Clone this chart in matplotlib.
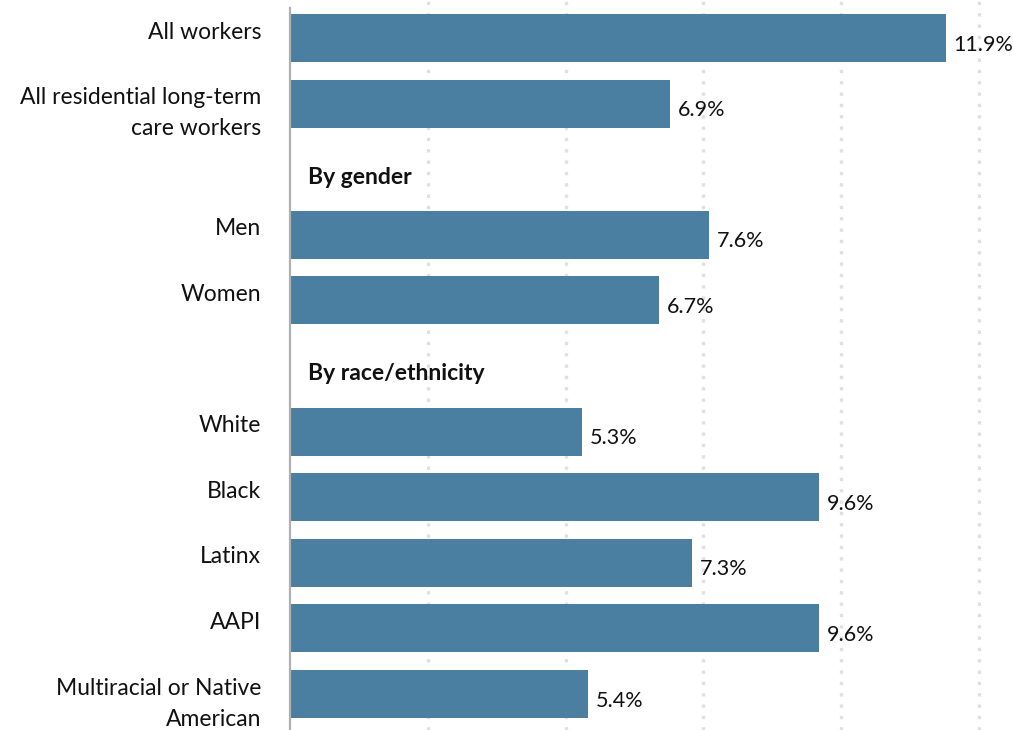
import numpy as np
import matplotlib.pyplot as plt

plt.rcParams['font.family'] = ['Lato', 'DejaVu Sans']

labels = ["All workers", "All residential long-term\ncare workers",
          "Men", "Women",
          "White", "Black", "Latinx", "AAPI", "Multiracial or Native\nAmerican"]
values = [11.9, 6.9, 7.6, 6.7, 5.3, 9.6, 7.3, 9.6, 5.4]
rows = [0, 1, 3, 4, 6, 7, 8, 9, 10]
headers = ["By gender", "By race/ethnicity"]
header_rows = [2, 5]
grid_ticks = [2.5, 5, 7.5, 10, 12.5]

bar_color = "#4a7fa1"
step = 65.6  # pixels per row

fig = plt.figure(figsize=(10.13, 7.3), dpi=100)
ax = fig.add_axes([290 / 1013, 0, 1 - 290 / 1013, 1])

ax.barh(rows, values, height=48 / step, color=bar_color, zorder=2)

for x in grid_ticks:
    ax.axvline(x, color="#e0e0e0", lw=2.4, linestyle=(0, (1, 2.4)),
               dash_capstyle="butt", zorder=1)

for r, v in zip(rows, values):
    ax.text(v + 0.14, r + 0.1, f"{v}%", va="center", ha="left",
            fontsize=15.5, color="#111111")

for r, lab in zip(rows, labels):
    ax.text(-0.52, r - 0.25, lab, va="top", ha="right", fontsize=16.5,
            color="#111111", linespacing=1.6)

for r, h in zip(header_rows, headers):
    ax.text(0.33, r + 0.12, h, va="center", ha="left", fontsize=16.5,
            fontweight="bold", color="#111111")

ax.set_xlim(0, 13.115)
ax.set_ylim((730 - 38) / step, -38 / step)
ax.plot([0, 0], [-30 / step, (730 - 38) / step], color="#b0b0b0", lw=1.6,
        zorder=3, clip_on=False)
ax.axis("off")

fig.savefig("out.png", dpi=100)
